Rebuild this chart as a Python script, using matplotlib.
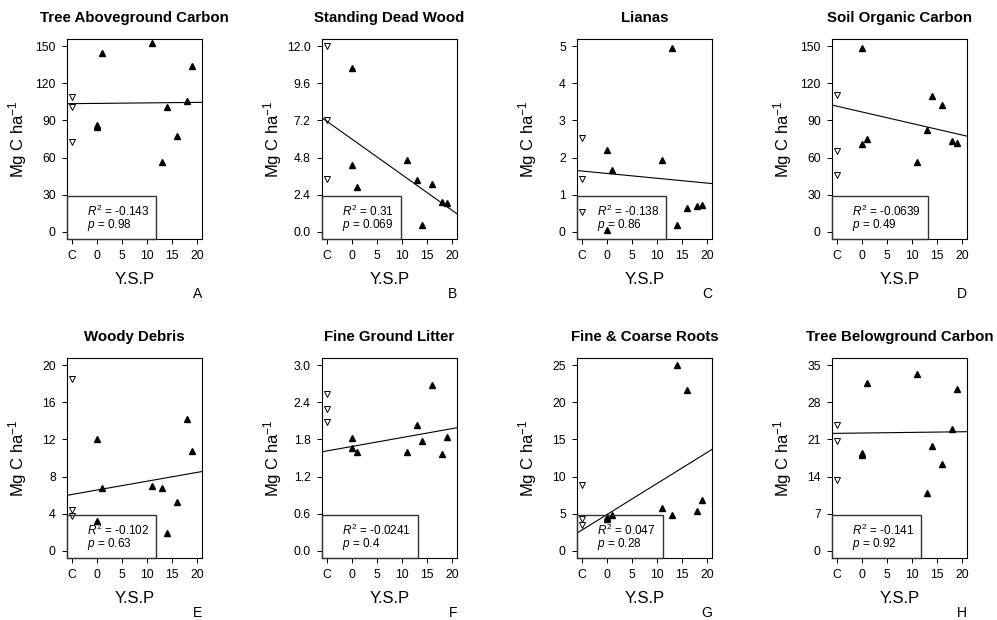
import numpy as np
import matplotlib
matplotlib.use("Agg")
import matplotlib.pyplot as plt
from matplotlib.patches import Rectangle

plt.rcParams['font.family'] = 'Liberation Sans'
plt.rcParams['mathtext.fontset'] = 'custom'
plt.rcParams['mathtext.rm'] = 'Liberation Sans'
plt.rcParams['mathtext.it'] = 'Liberation Sans:italic'

# years since planting for the 9 treatment sites, controls drawn at "C"
ysp = [0, 0, 1, 11, 13, 14, 16, 18, 19]
ctrl_x = -5

titles = ["Tree Aboveground Carbon", "Standing Dead Wood", "Lianas", "Soil Organic Carbon",
          "Woody Debris", "Fine Ground Litter", "Fine & Coarse Roots", "Tree Belowground Carbon"]
letters = ["A", "B", "C", "D", "E", "F", "G", "H"]

ctrl_A = [109.0, 101.2, 72.4]
ctrl_B = [12.02, 7.26, 3.40]
ctrl_C = [2.53, 1.43, 0.52]
ctrl_D = [110.4, 65.6, 46.1]
ctrl_E = [18.58, 4.41, 3.73]
ctrl_F = [2.54, 2.29, 2.08]
ctrl_G = [8.81, 4.23, 3.47]
ctrl_H = [23.8, 20.7, 13.4]

treat_A = [86.5, 84.6, 144.3, 152.7, 56.4, 100.6, 77.6, 106.0, 134.5]
treat_B = [10.59, 4.33, 2.88, 4.66, 3.34, 0.45, 3.10, 1.95, 1.84]
treat_C = [2.19, 0.05, 1.65, 1.94, 4.96, 0.19, 0.64, 0.70, 0.72]
treat_D = [148.9, 70.8, 75.1, 56.4, 81.9, 109.8, 102.5, 73.5, 71.9]
treat_E = [12.04, 3.18, 6.76, 6.94, 6.76, 1.95, 5.21, 14.18, 10.81]
treat_F = [1.83, 1.67, 1.59, 1.60, 2.03, 1.78, 2.69, 1.57, 1.84]
treat_G = [4.6, 4.2, 4.85, 5.78, 4.76, 25.0, 21.66, 5.34, 6.81]
treat_H = [18.5, 18.0, 31.6, 33.4, 10.9, 19.8, 16.4, 23.0, 30.6]

# fitted lines (treatment sites only)
intercepts = [103.84, 5.99, 1.57, 96.9, 6.54, 1.687, 4.87, 22.22]
slopes = [0.0407, -0.2304, -0.013, -0.933, 0.0952, 0.01444, 0.4185, 0.0119]
r2 = ["-0.143", "0.31", "-0.138", "-0.0639", "-0.102", "-0.0241", "0.047", "-0.141"]
pvals = ["0.98", "0.069", "0.86", "0.49", "0.63", "0.4", "0.28", "0.92"]

y_max = [150, 12, 5, 150, 20, 3, 25, 35]
y_step = [30, 2.4, 1, 30, 4, 0.6, 5, 7]
y_fmt = ["{:.0f}", "{:.1f}", "{:.0f}", "{:.0f}", "{:.0f}", "{:.1f}", "{:.0f}", "{:.0f}"]

ctrls = [ctrl_A, ctrl_B, ctrl_C, ctrl_D, ctrl_E, ctrl_F, ctrl_G, ctrl_H]
treats = [treat_A, treat_B, treat_C, treat_D, treat_E, treat_F, treat_G, treat_H]

fig = plt.figure(figsize=(9.97, 6.2), dpi=100)

lefts = [67, 322, 577, 832]
tops = [39, 358]
w_px, h_px = 135, 200

axes = []
legend_txt = []
for i in range(8):
    row, col = divmod(i, 4)
    ax = fig.add_axes([lefts[col] / 997, 1 - (tops[row] + h_px) / 620, w_px / 997, h_px / 620])
    axes.append(ax)

    ax.plot([ctrl_x] * len(ctrls[i]), ctrls[i], 'v', ms=4.4, mfc='white', mec='black', mew=0.7)
    ax.plot(ysp, treats[i], '^', ms=4.4, color='black')
    ax.axline((0, intercepts[i]), slope=slopes[i], color='black', lw=0.8)

    ax.set_xlim(-6, 21)
    ax.set_ylim(-0.04 * y_max[i], 1.04 * y_max[i])
    ax.set_xticks([ctrl_x, 0, 5, 10, 15, 20])
    ax.set_xticklabels(["C", "0", "5", "10", "15", "20"])
    yt = np.arange(0, y_max[i] + y_step[i] / 2, y_step[i])
    ax.set_yticks(yt)
    ax.set_yticklabels([y_fmt[i].format(v) for v in yt])
    ax.tick_params(length=3.6, width=0.7, labelsize=8.8, pad=4.5)
    for s in ax.spines.values():
        s.set_linewidth(0.8)

    ax.set_title(titles[i], fontsize=10.8, fontweight='bold', pad=12.5)
    ax.annotate("Y.S.P", (0.5, 0), xycoords='axes fraction', xytext=(0, -29.5),
                textcoords='offset points', ha='center', va='center', fontsize=12)
    ax.annotate(letters[i], (1, 0), xycoords='axes fraction', xytext=(0, -39.5),
                textcoords='offset points', ha='right', va='center', fontsize=10)
    ax.annotate(r"Mg C ha$^{-1}$", (0, 0.5), xycoords='axes fraction', xytext=(-35.3, 0),
                textcoords='offset points', ha='center', va='center', rotation=90, fontsize=12)

    lab = r"$R^2$ = " + r2[i] + "\n" + r"$p$ = " + pvals[i]
    t = ax.annotate(lab, (0, 0), xycoords='axes fraction', xytext=(14.4, 15.0),
                    textcoords='offset points', ha='left', va='center', fontsize=8.5,
                    linespacing=0.85)
    legend_txt.append(t)

# legend boxes sized to their text, like R's legend("bottomleft")
fig.canvas.draw()
renderer = fig.canvas.get_renderer()
for ax, t in zip(axes, legend_txt):
    right = t.get_window_extent(renderer).x1 + 7
    x0, y0 = ax.transAxes.transform((0, 0))
    inv = ax.transAxes.inverted()
    (ax0, ay0) = inv.transform((x0, y0))
    (ax1, ay1) = inv.transform((right, y0 + 43))
    ax.add_patch(Rectangle((ax0, ay0), ax1 - ax0, ay1 - ay0, transform=ax.transAxes,
                           fill=False, edgecolor='#333333', lw=1.0, clip_on=False, zorder=3))

fig.savefig("out.png", dpi=100)
